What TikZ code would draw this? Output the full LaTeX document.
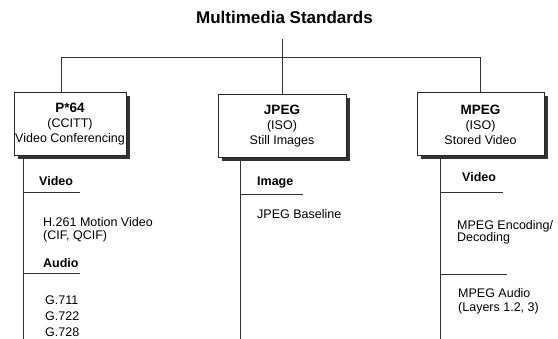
\documentclass[tikz,border=0pt]{standalone}
\usepackage{fontspec}
\setmainfont{Liberation Sans}
\usetikzlibrary{positioning, calc, shadows}
\tikzset{
    stdbox/.style={ % Sets the properties for each standard box
        draw=black!85,
        line width=1pt,
        fill=white,
        align=center,
        inner sep=0pt,
        minimum height=63pt,
        font=\fontsize{12.5}{15}\selectfont,
        drop shadow={shadow xshift=3.5pt, shadow yshift=-3.5pt, fill=black!80, opacity=1}
    },
    subhead/.style={ % Bold headings in the columns
        anchor=base west,
        inner sep=0pt,
        font=\fontsize{12.5}{15}\selectfont\bfseries
    },
    subitem/.style={ % Plain entries in the columns
        anchor=base west,
        inner sep=0pt,
        font=\fontsize{12.5}{15}\selectfont
    },
    tree/.style={draw=black!80, line width=0.9pt}, % Connecting lines
}
\newcommand{\boxtitle}[1]{{\fontsize{13.5}{15}\selectfont\bfseries #1}}

\begin{document}
\begin{tikzpicture}[x=1pt, y=-1pt]
    \fill[white] (0,0) rectangle (558,339);
    \useasboundingbox (0,0) rectangle (558,339);

    \node[font=\fontsize{17}{20}\selectfont\bfseries] (title) at (284.5,17) {Multimedia Standards};

    \node[stdbox, minimum width=112pt] (p64)  at (70,124.5)  {\boxtitle{P*64}\\(CCITT)\\Video Conferencing};
    \node[stdbox, minimum width=128pt] (jpeg) at (282,126.5) {\boxtitle{JPEG}\\(ISO)\\Still Images};
    \node[stdbox, minimum width=127pt] (mpeg) at (480.5,124.5) {\boxtitle{MPEG}\\(ISO)\\Stored Video};

    \coordinate (stem) at (282,39);
    \coordinate (busL) at (61,57);
    \coordinate (busR) at (480,57);
    \draw[tree] (stem) -- (jpeg.north);
    \draw[tree] (busL |- p64.north) -- (busL) -- (busR) -- (busR |- mpeg.north);

    % P*64 column
    \coordinate (lend) at (23,339);
    \draw[tree] (lend |- p64.south) -- (lend);
    \node[subhead] (lvid) at (39,185.5)   {Video};
    \node[subitem] (lh261) at (43,226.5)  {H.261 Motion Video};
    \node[subitem] (lcif) at (43,239.5)   {(CIF, QCIF)};
    \node[subhead] (laud) at (43,267.5)   {Audio};
    \node[subitem] (lg1) at (45,304.5)    {G.711};
    \node[subitem] (lg2) at (45,320.5)    {G.722};
    \node[subitem] (lg3) at (45,336.5)    {G.728};
    \draw[tree] (lend |- 0,192) -- (80,192);
    \draw[tree] (lend |- 0,273) -- (80,273);

    % JPEG column
    \coordinate (mend) at (240,339);
    \draw[tree] (mend |- jpeg.south) -- (mend);
    \node[subhead] (mimg) at (257,185.5)  {Image};
    \node[subitem] (mbase) at (257,218.5) {JPEG Baseline};
    \draw[tree] (mend |- 0,194) -- (303,194);

    % MPEG column
    \coordinate (rend) at (440,339);
    \draw[tree] (rend |- mpeg.south) -- (rend);
    \node[subhead] (rvid) at (462,181.5)  {Video};
    \node[subitem] (renc) at (457,229.5)  {MPEG Encoding/};
    \node[subitem] (rdec) at (457,242)    {Decoding};
    \node[subitem] (raud) at (458,297.5)  {MPEG Audio};
    \node[subitem] (rlay) at (458,311.5)  {(Layers 1.2, 3)};
    \draw[tree] (rend |- 0,192) -- (503,192);
    \draw[tree] (rend |- 0,274) -- (507,274);
\end{tikzpicture}
\end{document}
